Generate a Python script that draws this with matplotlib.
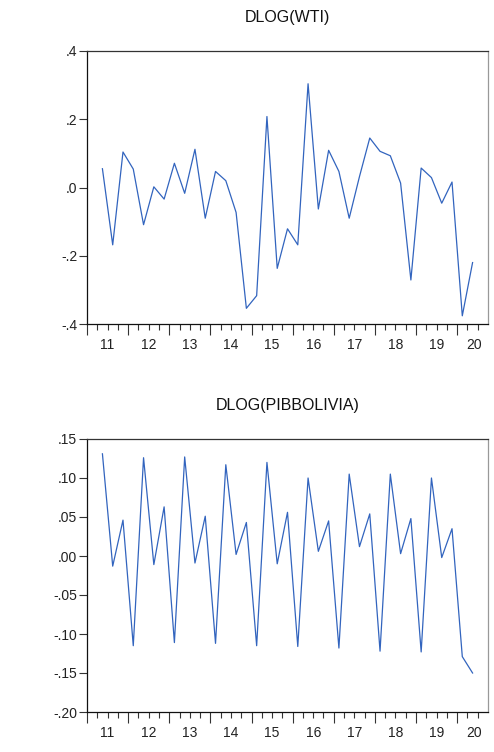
import numpy as np
import matplotlib
matplotlib.use('Agg')
import matplotlib.pyplot as plt
import matplotlib.transforms as mtransforms

plt.rcParams['font.family'] = ['Liberation Sans', 'DejaVu Sans']

# quarterly data 2011Q2 - 2020Q2
years = list(range(2011, 2021))
year_labels = ['11', '12', '13', '14', '15', '16', '17', '18', '19', '20']

dlog_wti = [0.055, -0.168, 0.104,
            0.054, -0.109, 0.002, -0.034,
            0.071, -0.017, 0.112, -0.090,
            0.047, 0.020, -0.073, -0.354,
            -0.317, 0.208, -0.237, -0.121,
            -0.168, 0.304, -0.063, 0.109,
            0.047, -0.090, 0.032, 0.145,
            0.106, 0.093, 0.013, -0.271,
            0.057, 0.029, -0.046, 0.016,
            -0.376, -0.220]

dlog_pib = [0.131, -0.013, 0.046,
            -0.115, 0.126, -0.011, 0.063,
            -0.111, 0.127, -0.009, 0.051,
            -0.112, 0.117, 0.002, 0.043,
            -0.115, 0.120, -0.010, 0.056,
            -0.116, 0.100, 0.006, 0.045,
            -0.118, 0.105, 0.012, 0.054,
            -0.122, 0.105, 0.003, 0.048,
            -0.123, 0.100, -0.002, 0.035,
            -0.129, -0.150]

wti_ticks = [-0.4, -0.2, 0.0, 0.2, 0.4]
wti_ticklabels = ['-.4', '-.2', '.0', '.2', '.4']
pib_ticks = [-0.20, -0.15, -0.10, -0.05, 0.00, 0.05, 0.10, 0.15]
pib_ticklabels = ['-.20', '-.15', '-.10', '-.05', '.00', '.05', '.10', '.15']

# x position = middle of each quarter
n = len(dlog_wti)
t = 2011 + 0.25 + 0.125 + 0.25 * np.arange(n)

line_color = '#3264BE'


def draw_panel(ax, y, title, yticks, yticklabels):
    ax.plot(t, y, color=line_color, lw=0.9)
    ax.set_xlim(2011, 2020.75)
    ax.set_ylim(yticks[0], yticks[-1])
    ax.set_yticks(yticks)
    ax.set_yticklabels(yticklabels)
    ax.set_xticks(years)
    ax.set_xticklabels([])
    quarters = [y0 + q * 0.25 for y0 in years for q in (1, 2, 3) if y0 + q * 0.25 < 2020.75]
    ax.set_xticks(quarters, minor=True)
    ax.tick_params(axis='x', which='major', length=8, width=0.8, direction='out', color='#333333')
    ax.tick_params(axis='x', which='minor', length=4, width=0.8, direction='out', color='#333333')
    ax.tick_params(axis='y', length=6, width=0.8, direction='out', pad=1, labelsize=10,
                   color='#333333', labelcolor='#222222')
    ax.spines['left'].set_color('#111111')
    ax.spines['bottom'].set_color('#111111')
    ax.spines['top'].set_color('#333333')
    ax.spines['right'].set_color('#999999')
    for s in ax.spines.values():
        s.set_linewidth(0.9)
    trans = mtransforms.blended_transform_factory(ax.transData, ax.transAxes)
    for y0, lab in zip(years, year_labels):
        xc = y0 + 0.5 if y0 < 2020 else 2020.4
        ax.text(xc, -0.077, lab, transform=trans, ha='center', va='center',
                fontsize=10, color='#222222')
    ax.set_title(title, fontsize=11.5, pad=21, color='#111111')


fig = plt.figure(figsize=(4.94, 7.52), dpi=100)
ax1 = fig.add_axes([87 / 494, 1 - 324 / 752, 401 / 494, 273 / 752])
ax2 = fig.add_axes([87 / 494, 1 - 712 / 752, 401 / 494, 273 / 752])

draw_panel(ax1, dlog_wti, 'DLOG(WTI)', wti_ticks, wti_ticklabels)
draw_panel(ax2, dlog_pib, 'DLOG(PIBBOLIVIA)', pib_ticks, pib_ticklabels)

fig.savefig('out.png', dpi=100)
